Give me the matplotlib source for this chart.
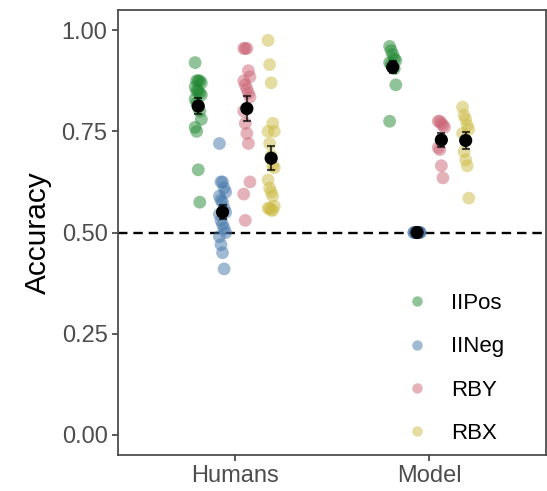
import numpy as np
import matplotlib
matplotlib.use("Agg")
import matplotlib.pyplot as plt
from matplotlib.lines import Line2D

plt.rcParams['font.family'] = ['Liberation Sans', 'DejaVu Sans']

# данні: точність по умовах
groups = ["Humans", "Model"]
conditions = ["IIPos", "IINeg", "RBY", "RBX"]
colors = ["#228833", "#4477AA", "#CC6677", "#CCBB44"]

humans_iipos = [0.92, 0.875, 0.875, 0.875, 0.87, 0.86, 0.85, 0.85, 0.845, 0.84, 0.83,
                0.82, 0.81, 0.80, 0.78, 0.76, 0.75, 0.655, 0.575]
humans_iineg = [0.72, 0.625, 0.625, 0.61, 0.60, 0.59, 0.58, 0.575, 0.56, 0.55, 0.545,
                0.53, 0.52, 0.51, 0.50, 0.49, 0.47, 0.45, 0.41]
humans_rby = [0.955, 0.955, 0.955, 0.90, 0.885, 0.875, 0.865, 0.855, 0.845, 0.835,
              0.80, 0.77, 0.745, 0.72, 0.625, 0.595, 0.53]
humans_rbx = [0.975, 0.915, 0.87, 0.77, 0.75, 0.75, 0.72, 0.69, 0.665, 0.66, 0.63,
              0.61, 0.60, 0.59, 0.565, 0.56, 0.56, 0.555, 0.555]

model_iipos = [0.96, 0.95, 0.94, 0.93, 0.925, 0.92, 0.915, 0.91, 0.905, 0.865, 0.775]
model_iineg = [0.5, 0.5, 0.5, 0.5, 0.5, 0.5, 0.5, 0.5, 0.5, 0.5]
model_rby = [0.775, 0.775, 0.77, 0.765, 0.76, 0.71, 0.705, 0.665, 0.635]
model_rbx = [0.81, 0.79, 0.78, 0.765, 0.755, 0.745, 0.70, 0.68, 0.665, 0.585]

data = {
    "Humans": [humans_iipos, humans_iineg, humans_rby, humans_rbx],
    "Model": [model_iipos, model_iineg, model_rby, model_rbx],
}

fig = plt.figure(figsize=(5.47, 4.91), dpi=100)
ax = fig.add_axes([0.2157, 0.0733, 0.7823, 0.9063])

dodge = 0.5
n_cond = len(conditions)
offsets = (np.arange(n_cond) - (n_cond - 1) / 2) * dodge / n_cond

for gi, g in enumerate(groups):
    for ci, vals in enumerate(data[g]):
        vals = np.array(vals)
        x0 = gi + offsets[ci]
        # невеликий детермінований розкид по x
        jit = ((np.arange(len(vals)) % 5) - 2) * 0.008
        ax.scatter(x0 + jit, vals, s=85, color=colors[ci], alpha=0.5,
                   edgecolors='none', zorder=2)
        m = vals.mean()
        se = vals.std(ddof=1) / np.sqrt(len(vals))
        ax.errorbar(x0, m, yerr=se, fmt='none', ecolor='black', elinewidth=1.5,
                    capsize=3, capthick=1.5, alpha=0.7, zorder=3)
        ax.scatter([x0], [m], s=90, color='black', zorder=4, edgecolors='none')

ax.axhline(0.5, color='black', linestyle=(0, (4, 2.5)), linewidth=1.7, zorder=1)

ax.set_xlim(-0.6, 1.6)
ax.set_ylim(-0.05, 1.05)
ax.set_xticks([0, 1])
ax.set_xticklabels(groups)
ax.set_yticks([0, 0.25, 0.5, 0.75, 1.0])
ax.set_yticklabels(["0.00", "0.25", "0.50", "0.75", "1.00"])
ax.set_ylabel("Accuracy", fontsize=21.5, color='black', labelpad=7)

for sp in ax.spines.values():
    sp.set_color('#4d4d4d')
    sp.set_linewidth(1.3)
ax.tick_params(axis='both', colors='#4d4d4d', labelcolor='#4d4d4d', labelsize=17,
               length=4, width=1.3)

handles = [Line2D([], [], marker='o', linestyle='none', markersize=7.5,
                  markerfacecolor=c, markeredgecolor='none', alpha=0.5) for c in colors]
ax.legend(handles, conditions, loc='lower right', frameon=False, fontsize=16,
          labelspacing=1.0, handletextpad=0.55, bbox_to_anchor=(0.95, -0.02))

fig.savefig("out.png", dpi=100)
